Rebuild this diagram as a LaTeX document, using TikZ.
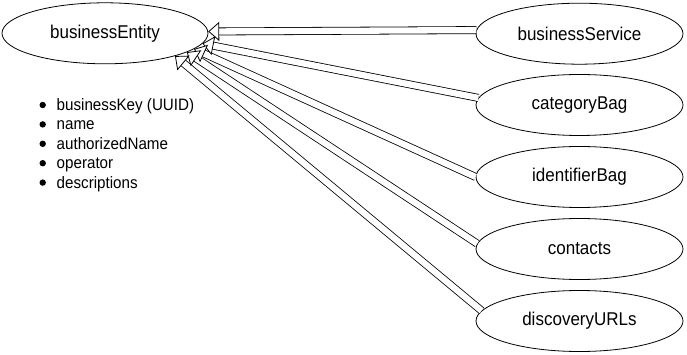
\documentclass[tikz,border=0pt]{standalone}
\usepackage{fontspec}
\setmainfont{Liberation Sans}
\usetikzlibrary{shapes.geometric,arrows.meta,calc}
\newcommand{\ovaltext}[1]{\scalebox{0.92}[1]{\fontsize{18.5}{22}\selectfont #1}}
\newcommand{\itemtext}[1]{\scalebox{0.92}[1]{\fontsize{16.5}{20}\selectfont #1}}
\begin{document}
\begin{tikzpicture}[x=1pt,y=-1pt,
  oval/.style={draw, ellipse, line width=0.8pt, minimum width=206pt, minimum height=61pt, inner sep=0pt},
  shaft/.style={draw, double=white, double distance=6.3pt, line width=0.8pt, shorten >=10.5pt},
  headtip/.style={draw=white, line width=0.8pt, -{Triangle[length=11pt,width=19pt,color=black,fill=white]}},
  item/.style={anchor=base west, inner sep=0pt},
  dot/.style={fill=black}]
\useasboundingbox (0,0) rectangle (687,355);
\node[oval] (be) at (105,33.3) {\ovaltext{businessEntity}};
\node[oval, minimum width=207pt] (bs) at (579.5,33.7) {\ovaltext{businessService}};
\node[oval, minimum width=207pt] (cb) at (579.5,105) {\ovaltext{categoryBag}};
\node[oval, minimum width=207pt] (ib) at (579.5,177) {\ovaltext{identifierBag}};
\node[oval, minimum width=207pt] (ct) at (579.5,249) {\ovaltext{contacts}};
\node[oval, minimum width=207pt] (du) at (579.5,321) {\ovaltext{discoveryURLs}};
% shafts
\draw[shaft] (bs.178.5) -- (be.1);
\draw[shaft] (cb.176.1) -- (be.-6);
\draw[shaft] (ib.west) -- (be.-10.2);
\draw[shaft] (ct.177.2) -- (be.-13.8);
\draw[shaft] (du.174.6) -- (be.-18.2);
% heads
\draw[headtip] ($(be.1)!12pt!(bs.178.5)$) -- (be.1);
\draw[headtip] ($(be.-6)!12pt!(cb.176.1)$) -- (be.-6);
\draw[headtip] ($(be.-10.2)!12pt!(ib.west)$) -- (be.-10.2);
\draw[headtip] ($(be.-13.8)!12pt!(ct.177.2)$) -- (be.-13.8);
\draw[headtip] ($(be.-18.2)!12pt!(du.174.6)$) -- (be.-18.2);
% list
\foreach \yy in {105,124.4,143.8,163.2,182.6} \fill[dot] (42.7,\yy) circle (3.2pt);
\node[item] (i1) at (56.5,110.5) {\itemtext{businessKey (UUID)}};
\node[item] (i2) at (56.5,129.9) {\itemtext{name}};
\node[item] (i3) at (56.5,149.3) {\itemtext{authorizedName}};
\node[item] (i4) at (56.5,168.7) {\itemtext{operator}};
\node[item] (i5) at (56.5,188.1) {\itemtext{descriptions}};
\end{tikzpicture}
\end{document}
